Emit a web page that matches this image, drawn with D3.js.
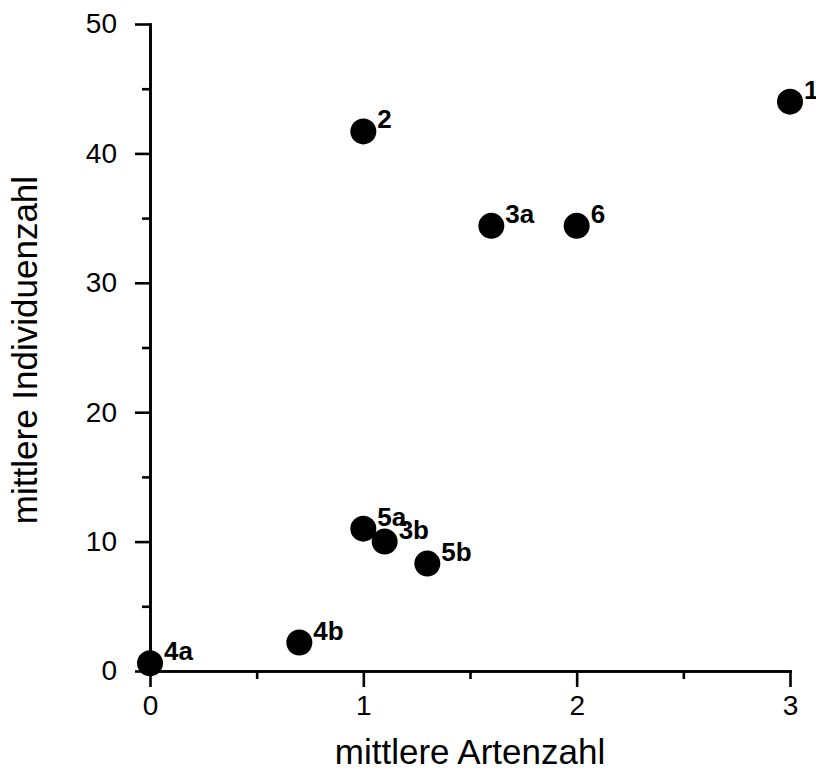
<!DOCTYPE html>
<html>
<head>
<meta charset="utf-8">
<script src="https://cdn.jsdelivr.net/npm/d3@7"></script>
<style>
  body { margin: 0; background: #fff; }
  svg { font-family: "Liberation Sans", Arial, sans-serif; }
  .axis path, .axis line { stroke: #000; stroke-width: 2.6; }
  .axis text { font-size: 28px; fill: #000; }
</style>
</head>
<body>
<svg id="chart" width="816" height="772"></svg>
<script>
// data
var labels = ["1", "2", "3a", "6", "5a", "3b", "5b", "4b", "4a"];
var artenzahl = [3, 1, 1.6, 2, 1, 1.1, 1.3, 0.7, 0];
var individuenzahl = [44, 41.7, 34.4, 34.4, 11, 10, 8.3, 2.2, 0.6];

var xMajor = [0, 1, 2, 3];
var xMinor = [0.5, 1.5, 2.5];
var yMajor = [0, 10, 20, 30, 40, 50];
var yMinor = [5, 15, 25, 35, 45];

var svg = d3.select("#chart");

var x = d3.scaleLinear().domain([0, 3]).range([150, 790]);
var y = d3.scaleLinear().domain([0, 50]).range([671, 24]);

// x axis: minor then major ticks
svg.append("g").attr("class", "axis")
    .attr("transform", "translate(0," + y(0) + ")")
    .call(d3.axisBottom(x).tickValues(xMinor).tickSize(8).tickSizeOuter(0).tickFormat(""));
svg.append("g").attr("class", "axis")
    .attr("transform", "translate(0," + y(0) + ")")
    .call(d3.axisBottom(x).tickValues(xMajor).tickSize(16).tickSizeOuter(0).tickPadding(8).tickFormat(d3.format("d")));

// y axis
svg.append("g").attr("class", "axis")
    .attr("transform", "translate(" + x(0) + ",0)")
    .call(d3.axisLeft(y).tickValues(yMinor).tickSize(8).tickSizeOuter(0).tickFormat(""));
svg.append("g").attr("class", "axis")
    .attr("transform", "translate(" + x(0) + ",0)")
    .call(d3.axisLeft(y).tickValues(yMajor).tickSize(15).tickSizeOuter(0).tickPadding(18).tickFormat(d3.format("d")));

svg.selectAll(".axis .domain").attr("stroke-linecap", "square");

// axis titles
svg.append("text")
    .attr("x", 470).attr("y", 764)
    .attr("text-anchor", "middle")
    .style("font-size", "35px")
    .text("mittlere Artenzahl");

svg.append("text")
    .attr("transform", "translate(37,350) rotate(-90)")
    .attr("text-anchor", "middle")
    .style("font-size", "35px")
    .text("mittlere Individuenzahl");

// points
var pts = labels.map(function (l, i) { return { label: l, x: artenzahl[i], y: individuenzahl[i] }; });

svg.selectAll("circle.pt")
    .data(pts)
    .enter()
    .append("circle")
    .attr("class", "pt")
    .attr("cx", function (d) { return x(d.x); })
    .attr("cy", function (d) { return y(d.y); })
    .attr("r", 13)
    .attr("fill", "#000");

svg.selectAll("text.lbl")
    .data(pts)
    .enter()
    .append("text")
    .attr("class", "lbl")
    .attr("x", function (d) { return x(d.x) + 14; })
    .attr("y", function (d) { return y(d.y) - 3; })
    .style("font-size", "26px")
    .style("font-weight", "bold")
    .text(function (d) { return d.label; });
</script>
</body>
</html>
